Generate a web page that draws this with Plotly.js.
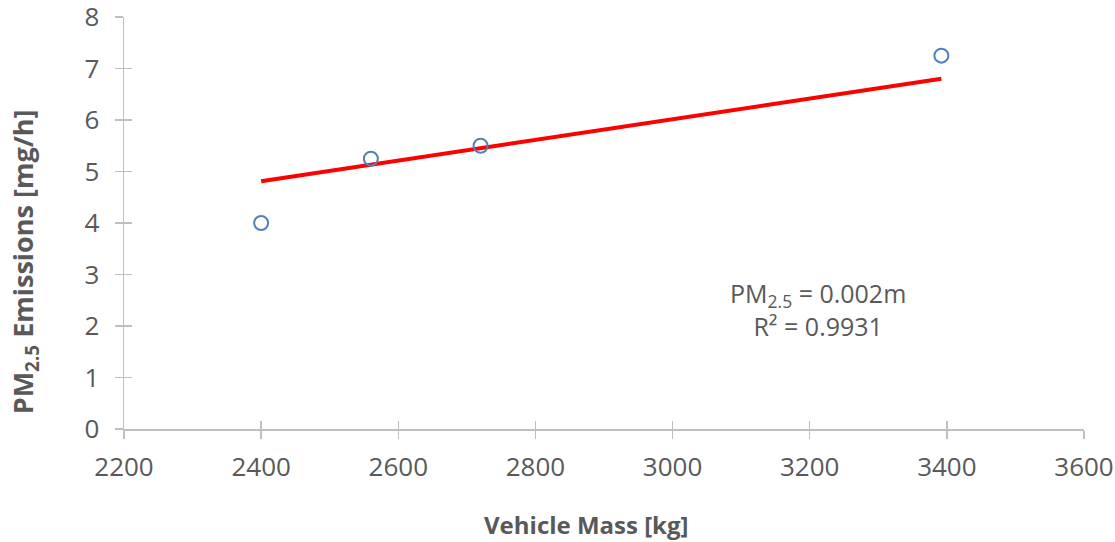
<!DOCTYPE html>
<html>
<head>
<meta charset="utf-8">
<script src="https://cdn.plot.ly/plotly-3.0.1.min.js"></script>
<style>html,body{margin:0;padding:0;background:#fff;}#chart{width:1115px;height:542px;}</style>
</head>
<body>
<div id="chart"></div>
<script>
const massKg = [2400, 2560, 2720, 3392];
const pmEmissions = [4.0, 5.25, 5.5, 7.25];
const trendMass = [2400, 3392];
const trendPm = [4.81, 6.80];
const xTicks = [2200, 2400, 2600, 2800, 3000, 3200, 3400, 3600];
const yTicks = [0, 1, 2, 3, 4, 5, 6, 7, 8];

const grey = '#595959';
const axisCol = '#BFBFBF';
const fontFam = '"Open Sans", "Liberation Sans", sans-serif';

const traces = [
  {
    x: trendMass, y: trendPm, type: 'scatter', mode: 'lines',
    line: {color: '#FF0000', width: 4}, hoverinfo: 'skip', showlegend: false
  },
  {
    x: massKg, y: pmEmissions, type: 'scatter', mode: 'markers',
    marker: {symbol: 'circle-open', size: 14, color: '#4F81BD', line: {width: 2, color: '#4F81BD'}},
    showlegend: false
  }
];

const baseAxis = {
  showgrid: false, zeroline: false, showline: true, linecolor: axisCol, linewidth: 1.5,
  ticks: 'outside', ticklen: 8, tickwidth: 1.5, tickcolor: axisCol,
  tickfont: {family: fontFam, size: 26, color: grey},
  ticklabeloverflow: 'allow', automargin: false
};

const layout = {
  width: 1115, height: 542,
  margin: {l: 124, r: 31, t: 17, b: 113},
  paper_bgcolor: '#fff', plot_bgcolor: '#fff',
  showlegend: false,
  xaxis: Object.assign({}, baseAxis, {
    range: [2200, 3600], tickvals: xTicks, ticktext: xTicks.map(String),
    ticklabelstandoff: 6
  }),
  yaxis: Object.assign({}, baseAxis, {
    range: [0, 8], tickvals: yTicks, ticktext: yTicks.map(String),
    ticklabelstandoff: 10
  }),
  xaxis2: {overlaying: 'x', range: [2200, 3600], tickvals: xTicks, showticklabels: false, ticks: 'inside', ticklen: 8, tickwidth: 1.5, tickcolor: axisCol, showgrid: false, zeroline: false, showline: false, side: 'bottom', anchor: 'y2'},
  yaxis2: {overlaying: 'y', range: [0, 8], tickvals: yTicks, showticklabels: false, ticks: 'inside', ticklen: 8, tickwidth: 1.5, tickcolor: axisCol, showgrid: false, zeroline: false, showline: false, side: 'left', anchor: 'x2'},
  annotations: [
    {
      xref: 'paper', yref: 'paper', x: 0.723, y: 0.289, xanchor: 'center', yanchor: 'middle',
      text: 'PM<sub>2.5</sub> = 0.002m<br>R² = 0.9931', showarrow: false, align: 'center',
      font: {family: fontFam, size: 25, color: grey}
    },
    {
      xref: 'paper', yref: 'paper', x: 0.482, y: -0.231, xanchor: 'center', yanchor: 'middle',
      text: '<b>Vehicle Mass [kg]</b>', showarrow: false,
      font: {family: fontFam, size: 24, color: grey}
    },
    {
      xref: 'paper', yref: 'paper', x: -0.104, y: 0.405, xanchor: 'center', yanchor: 'middle',
      text: '<b>PM<sub>2.5</sub> Emissions [mg/h]</b>', showarrow: false, textangle: -90,
      font: {family: fontFam, size: 27, color: grey}
    }
  ]
};

const dummy = {x: [2200], y: [0], xaxis: 'x2', yaxis: 'y2', type: 'scatter', mode: 'markers', marker: {opacity: 0}, hoverinfo: 'skip', showlegend: false};

Plotly.newPlot('chart', [dummy].concat(traces), layout, {displayModeBar: false, staticPlot: true});
</script>
</body>
</html>
